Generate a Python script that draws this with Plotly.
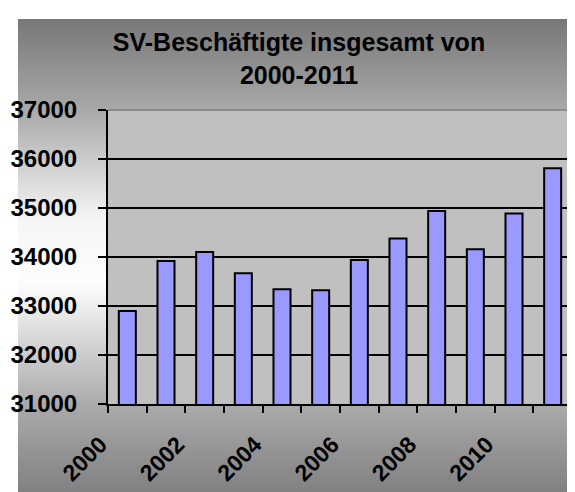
import base64
import plotly.graph_objects as go

# ---- data ----
years = [2000, 2001, 2002, 2003, 2004, 2005, 2006, 2007, 2008, 2009, 2010, 2011]
employees = [32900, 33920, 34100, 33670, 33340, 33320, 33940, 34380, 34940, 34160, 34890, 35810]
label_years = [2000, 2002, 2004, 2006, 2008, 2010]
label_text = [str(y) for y in label_years]
y_ticks = [31000, 32000, 33000, 34000, 35000, 36000, 37000]
title_text = "SV-Beschäftigte insgesamt von<br>2000-2011"

W, H = 575, 492
FONT = "Liberation Sans, Arial, sans-serif"

# gradient background for the chart area (as an SVG image)
gw, gh = 565, 481
stops = [(0.0, "#777777"), (0.19, "#a9a9a9"), (0.42, "#f6f6f6"), (0.55, "#fdfdfd"),
         (0.80, "#ababab"), (1.0, "#7d7d7d")]
stop_svg = "".join(f'<stop offset="{o}" stop-color="{c}"/>' for o, c in stops)
svg = (f'<svg xmlns="http://www.w3.org/2000/svg" width="{gw}" height="{gh}" '
       f'viewBox="0 0 {gw} {gh}" preserveAspectRatio="none">'
       f'<defs><linearGradient id="g" x1="0" y1="0" x2="0" y2="1">{stop_svg}</linearGradient></defs>'
       f'<rect x="0" y="0" width="{gw}" height="{gh}" fill="url(#g)"/></svg>')
src = "data:image/svg+xml;base64," + base64.b64encode(svg.encode()).decode()

boundaries = [y - 0.5 for y in years] + [years[-1] + 0.5]

fig = go.Figure(go.Bar(
    x=years, y=employees,
    marker=dict(color="#9999FF", line=dict(color="black", width=2)),
    hoverinfo="x+y",
))

fig.update_layout(
    width=W, height=H,
    margin=dict(l=0, r=0, t=0, b=0),
    paper_bgcolor="white",
    plot_bgcolor="rgba(0,0,0,0)",
    showlegend=False,
    bargap=0.56,
    font=dict(family=FONT, color="black"),
    title=dict(text=title_text, x=291 / W, xanchor="center", y=1 - 43 / H, yanchor="middle",
               font=dict(family=FONT, size=25, color="black", weight="bold")),
    xaxis=dict(
        domain=[100 / W, 564 / W],
        range=[years[0] - 0.5, years[-1] + 0.5],
        tickmode="array", tickvals=label_years, ticktext=label_text,
        ticks="", tickangle=-45,
        tickfont=dict(family=FONT, size=23, color="black", weight="bold"),
        ticklabelstandoff=16, ticklabelshift=-27,
        showline=True, linecolor="black", linewidth=2,
        showgrid=False, zeroline=False, automargin=False,
        minor=dict(tickmode="array", tickvals=boundaries, ticks="outside", ticklen=7,
                   tickwidth=2, tickcolor="black", showgrid=False),
        fixedrange=True,
    ),
    yaxis=dict(
        domain=[(H - 396) / H, (H - 102) / H],
        range=[y_ticks[0], y_ticks[-1]],
        tickmode="array", tickvals=y_ticks, tickformat="d",
        ticks="outside", ticklen=8, tickwidth=2, tickcolor="black",
        tickfont=dict(family=FONT, size=24, color="black", weight="bold"),
        ticklabelstandoff=16,
        showline=True, linecolor="black", linewidth=2,
        showgrid=True, gridcolor="black", gridwidth=2,
        zeroline=False, automargin=False, fixedrange=True,
    ),
    images=[dict(source=src, xref="paper", yref="paper", x=10 / W, y=1 - 11 / H,
                 sizex=gw / W, sizey=gh / H, xanchor="left", yanchor="top",
                 sizing="stretch", layer="below")],
    shapes=[
        dict(type="rect", xref="x domain", yref="y domain", x0=0, x1=1, y0=0, y1=1,
             fillcolor="#C0C0C0", line=dict(width=0), layer="below"),
        dict(type="line", xref="x domain", yref="y domain", x0=0, x1=1, y0=1, y1=1,
             line=dict(color="#8a8a8a", width=2), layer="above"),
        dict(type="line", xref="x domain", yref="y domain", x0=1, x1=1, y0=0, y1=1,
             line=dict(color="#8a8a8a", width=2), layer="above"),
    ],
)

fig.write_html("out.html")
